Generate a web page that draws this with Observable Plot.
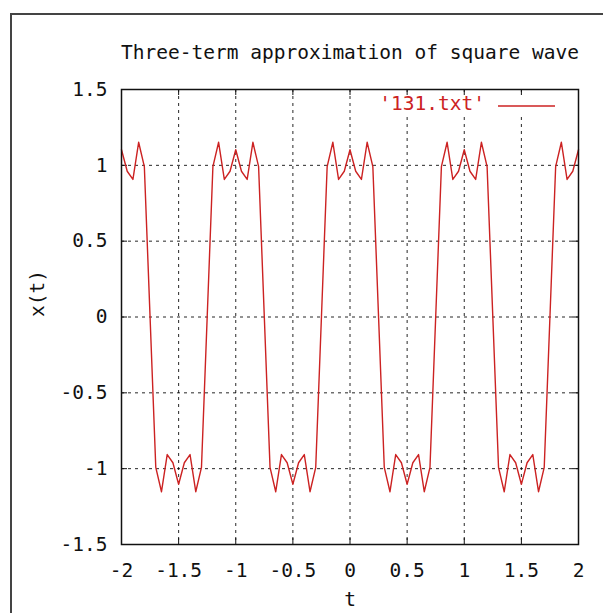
<!DOCTYPE html>
<html><head><meta charset="utf-8">
<script src="https://cdn.jsdelivr.net/npm/d3@7"></script>
<script src="https://cdn.jsdelivr.net/npm/@observablehq/plot@0.6"></script>
<style>
body{margin:0;background:#fff;}
#wrap{position:relative;width:603px;height:613px;overflow:hidden;background:#fff;}
.bl{position:absolute;left:10px;top:13px;width:2px;height:600px;background:#444;}
.bt{position:absolute;left:10px;top:13px;width:593px;height:2px;background:#444;}
</style>
</head><body>
<div id="wrap"></div>
<script>
const title = "Three-term approximation of square wave";
const xLabel = "t";
const yLabel = "x(t)";
const seriesName = "'131.txt'";
const xTicks = [-2, -1.5, -1, -0.5, 0, 0.5, 1, 1.5, 2];
const yTicks = [-1.5, -1, -0.5, 0, 0.5, 1, 1.5];
const tValues = [-2, -1.95, -1.9, -1.85, -1.8, -1.75, -1.7, -1.65, -1.6, -1.55,
  -1.5, -1.45, -1.4, -1.35, -1.3, -1.25, -1.2, -1.15, -1.1, -1.05,
  -1, -0.95, -0.9, -0.85, -0.8, -0.75, -0.7, -0.65, -0.6, -0.55,
  -0.5, -0.45, -0.4, -0.35, -0.3, -0.25, -0.2, -0.15, -0.1, -0.05,
  0, 0.05, 0.1, 0.15, 0.2, 0.25, 0.3, 0.35, 0.4, 0.45,
  0.5, 0.55, 0.6, 0.65, 0.7, 0.75, 0.8, 0.85, 0.9, 0.95,
  1, 1.05, 1.1, 1.15, 1.2, 1.25, 1.3, 1.35, 1.4, 1.45,
  1.5, 1.55, 1.6, 1.65, 1.7, 1.75, 1.8, 1.85, 1.9, 1.95, 2];
const xValues = [1.103, 0.961, 0.907, 1.152, 0.991, 0, -0.991, -1.152, -0.907, -0.961,
  -1.103, -0.961, -0.907, -1.152, -0.991, 0, 0.991, 1.152, 0.907, 0.961,
  1.103, 0.961, 0.907, 1.152, 0.991, 0, -0.991, -1.152, -0.907, -0.961,
  -1.103, -0.961, -0.907, -1.152, -0.991, 0, 0.991, 1.152, 0.907, 0.961,
  1.103, 0.961, 0.907, 1.152, 0.991, 0, -0.991, -1.152, -0.907, -0.961,
  -1.103, -0.961, -0.907, -1.152, -0.991, 0, 0.991, 1.152, 0.907, 0.961,
  1.103, 0.961, 0.907, 1.152, 0.991, 0, -0.991, -1.152, -0.907, -0.961,
  -1.103, -0.961, -0.907, -1.152, -0.991, 0, 0.991, 1.152, 0.907, 0.961,
  1.103];

const data = tValues.map((t, i) => ({t, v: xValues[i]}));
const red = "#cc2222";
const W = 603, H = 613, mL = 121, mR = 25, mT = 89, mB = 69;
const frameH = H - mT - mB, frameW = W - mL - mR, tick = 6;
const fmt = d => String(d);
const font = "DejaVu Sans Mono";

const chart = Plot.plot({
  width: W, height: H,
  marginLeft: mL, marginRight: mR, marginTop: mT, marginBottom: mB,
  style: {fontFamily: font, fontSize: "19.5px", background: "white", color: "#111"},
  x: {domain: [-2, 2]},
  y: {domain: [-1.5, 1.5]},
  marks: [
    Plot.gridX(xTicks.slice(1, -1), {stroke: "#000", strokeOpacity: 0.85, strokeDasharray: "3,4"}),
    Plot.gridY(yTicks.slice(1, -1), {stroke: "#000", strokeOpacity: 0.85, strokeDasharray: "3,4"}),
    Plot.axisX(xTicks, {tickSize: 0, tickPadding: 19, tickFormat: fmt, label: null, fontSize: 19.5}),
    Plot.axisY(yTicks, {tickSize: 0, tickPadding: 14, tickFormat: fmt, label: null, fontSize: 19.5}),
    Plot.tickX(xTicks, {x: d => d, insetTop: frameH - tick, stroke: "#111"}),
    Plot.tickX(xTicks, {x: d => d, insetBottom: frameH - tick, stroke: "#111"}),
    Plot.tickY(yTicks, {y: d => d, insetRight: frameW - tick, stroke: "#111"}),
    Plot.tickY(yTicks, {y: d => d, insetLeft: frameW - tick, stroke: "#111"}),
    Plot.line(data, {x: "t", y: "v", stroke: red, strokeWidth: 1.4}),
    Plot.frame({stroke: "#111", strokeWidth: 1.5}),
    Plot.text([title], {text: d => d, frameAnchor: "top", lineAnchor: "middle", dy: -37, fontSize: 19.5, fill: "#111"}),
    Plot.text([xLabel], {text: d => d, frameAnchor: "bottom", lineAnchor: "middle", dy: 55, fontSize: 19.5, fill: "#111"}),
    Plot.text([yLabel], {text: d => d, frameAnchor: "left", dx: -84, rotate: -90, fontSize: 19.5, fill: "#111"})
  ]
});

const svg = d3.select(chart);
const right = W - mR;
svg.append("rect").attr("x", right - 205).attr("y", mT + 7).attr("width", 202).attr("height", 21).attr("fill", "white");
svg.append("text").attr("x", right - 93).attr("y", mT + 14).attr("dy", "0.35em")
  .attr("text-anchor", "end").attr("fill", red).attr("font-family", font).attr("font-size", 19.5).text(seriesName);
svg.append("line").attr("x1", right - 80).attr("x2", right - 23).attr("y1", mT + 17).attr("y2", mT + 17)
  .attr("stroke", red).attr("stroke-width", 1.4);

const wrap = document.getElementById("wrap");
wrap.appendChild(chart);
const bl = document.createElement("div"); bl.className = "bl"; wrap.appendChild(bl);
const bt = document.createElement("div"); bt.className = "bt"; wrap.appendChild(bt);
</script>
</body></html>
